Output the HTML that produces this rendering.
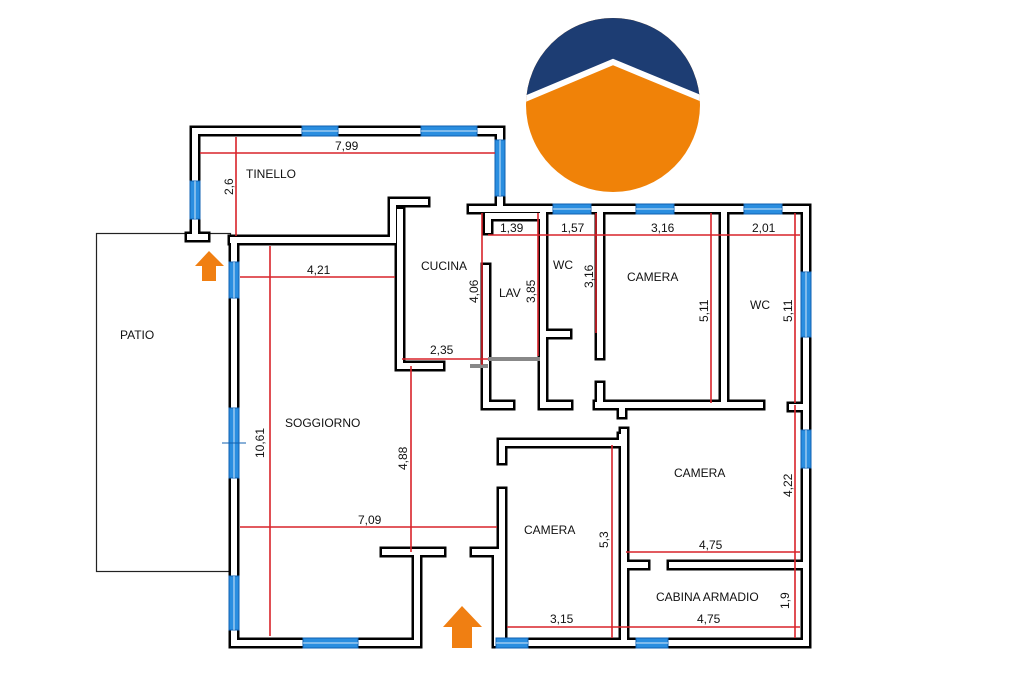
<!DOCTYPE html>
<html><head><meta charset="utf-8"><style>
html,body{margin:0;padding:0;background:#fff}
svg{display:block}
text{font-family:"Liberation Sans",sans-serif;font-size:12px;fill:#111}
</style></head><body>
<svg width="1024" height="682" viewBox="0 0 1024 682" xmlns="http://www.w3.org/2000/svg">
<defs><clipPath id="c"><circle cx="613" cy="105" r="87"/></clipPath></defs>
<g clip-path="url(#c)">
<rect x="520" y="10" width="190" height="190" fill="#f08208"/>
<polygon points="520,10 710,10 710,100 613,60 520,100" fill="#1d3d73"/>
<polyline points="520,101 613,62 710,102" fill="none" stroke="#fff" stroke-width="6"/>
</g>
<rect x="96.5" y="233.5" width="134" height="338" fill="#fff" stroke="#222" stroke-width="1.2"/>
<text x="120" y="339">PATIO</text>
<g fill="none" stroke="#000" stroke-linecap="square" stroke-linejoin="miter" stroke-width="11">
<path d="M195,234 V131 H500 V205"/>
<path d="M190,237 H205"/>
<path d="M233,240 H393 V202 H425"/>
<path d="M234,240 V643 H417 V552 H441"/>
<path d="M400,212 V366 H440"/>
<path d="M385,552 H417"/>
<path d="M475,552 H497 V643 H806 V209 H472"/>
<path d="M502,443 H622 V437"/>
<path d="M502,443 V460"/>
<path d="M502,492 V640"/>
<path d="M624,432 V640"/>
<path d="M626,565 H645"/>
<path d="M672,565 H804"/>
<path d="M600,212 V355"/>
<path d="M600,386 V405"/>
<path d="M598,405 H760"/>
<path d="M622,405 V414"/>
<path d="M724,212 V405"/>
<path d="M792,407 H804"/>
<path d="M543,212 V405 H568"/>
<path d="M543,334 H567"/>
<path d="M488,216 H540"/>
<path d="M488,218 V230"/>
<path d="M486,268 V405 H510"/>
</g>
<g fill="none" stroke-linecap="square" stroke="#fff" stroke-width="6">
<path d="M195,234 V131 H500 V205"/>
<path d="M190,237 H205"/>
<path d="M233,240 H393 V202 H425"/>
<path d="M234,240 V643 H417 V552 H441"/>
<path d="M400,212 V366 H440"/>
<path d="M385,552 H417"/>
<path d="M475,552 H497 V643 H806 V209 H472"/>
<path d="M502,443 H622 V437"/>
<path d="M502,443 V460"/>
<path d="M502,492 V640"/>
<path d="M624,432 V640"/>
<path d="M626,565 H645"/>
<path d="M672,565 H804"/>
<path d="M600,212 V355"/>
<path d="M600,386 V405"/>
<path d="M598,405 H760"/>
<path d="M622,405 V414"/>
<path d="M724,212 V405"/>
<path d="M792,407 H804"/>
<path d="M543,212 V405 H568"/>
<path d="M543,334 H567"/>
<path d="M488,216 H540"/>
<path d="M488,218 V230"/>
<path d="M486,268 V405 H510"/>
</g>
<path d="M488,359 H540 M470,366 H488" stroke="#888" stroke-width="4" fill="none"/>
<g fill="#2a8ee0" stroke="#1060b0" stroke-width="1">
<rect x="302" y="126" width="36" height="10"/>
<rect x="421" y="126" width="56" height="10"/>
<rect x="495" y="140" width="10" height="56"/>
<rect x="190" y="181" width="10" height="38"/>
<rect x="229" y="262" width="10" height="36"/>
<rect x="229" y="408" width="10" height="70"/>
<rect x="229" y="576" width="10" height="54"/>
<rect x="303" y="638" width="55" height="10"/>
<rect x="553" y="204" width="38" height="10"/>
<rect x="636" y="204" width="38" height="10"/>
<rect x="744" y="204" width="38" height="10"/>
<rect x="801" y="272" width="10" height="65"/>
<rect x="801" y="430" width="10" height="38"/>
<rect x="496" y="638" width="32" height="10"/>
<rect x="636" y="638" width="32" height="10"/>
</g>
<g stroke="#fff" stroke-width="1" opacity="0.8">
<path d="M302,131 H338 M421,131 H477 M500,140 V196 M195,181 V219 M234,262 V298 M234,408 V478 M234,576 V630 M303,643 H358 M553,209 H591 M636,209 H674 M744,209 H782 M806,272 V337 M806,430 V468 M496,643 H528 M636,643 H668"/>
</g>
<path d="M222,443 H246" stroke="#1060b0" stroke-width="1"/>
<g stroke="#d8232a" stroke-width="1.6" fill="none">
<path d="M200,153 H495"/>
<path d="M236,137 V236"/>
<path d="M240,277 H395"/>
<path d="M270,246 V636"/>
<path d="M240,527 H497"/>
<path d="M411,366 V552"/>
<path d="M402,359 H488"/>
<path d="M482,213 V365"/>
<path d="M488,235 H800"/>
<path d="M538,213 V356"/>
<path d="M596,213 V333"/>
<path d="M711,213 V403"/>
<path d="M795,213 V403"/>
<path d="M795,405 V638"/>
<path d="M626,552 H800"/>
<path d="M507,627 H800"/>
<path d="M612,445 V638"/>
</g>
<text x="246" y="178">TINELLO</text>
<text x="335" y="150">7,99</text>
<text transform="translate(233,195) rotate(-90)">2,6</text>
<text x="307" y="274">4,21</text>
<text x="421" y="270">CUCINA</text>
<text transform="translate(478,303) rotate(-90)">4,06</text>
<text x="499" y="297">LAV</text>
<text transform="translate(535,303) rotate(-90)">3,85</text>
<text x="500" y="232">1,39</text>
<text x="561" y="232">1,57</text>
<text x="651" y="232">3,16</text>
<text x="752" y="232">2,01</text>
<text x="553" y="269">WC</text>
<text transform="translate(593,288) rotate(-90)">3,16</text>
<text x="627" y="281">CAMERA</text>
<text transform="translate(708,322) rotate(-90)">5,11</text>
<text x="750" y="309">WC</text>
<text transform="translate(792,322) rotate(-90)">5,11</text>
<text x="430" y="354">2,35</text>
<text x="285" y="427">SOGGIORNO</text>
<text transform="translate(264,458) rotate(-90)">10,61</text>
<text transform="translate(407,470) rotate(-90)">4,88</text>
<text x="358" y="524">7,09</text>
<text x="674" y="477">CAMERA</text>
<text transform="translate(792,497) rotate(-90)">4,22</text>
<text x="524" y="534">CAMERA</text>
<text transform="translate(608,548) rotate(-90)">5,3</text>
<text x="699" y="549">4,75</text>
<text x="656" y="601">CABINA ARMADIO</text>
<text transform="translate(789,609) rotate(-90)">1,9</text>
<text x="550" y="623">3,15</text>
<text x="697" y="623">4,75</text>
<polygon points="195,266 209,251 224,266 216,266 216,281 202,281 202,266" fill="#f07f12"/>
<polygon points="443,627 462,606 482,627 472,627 472,648 452,648 452,627" fill="#f07f12"/>
</svg>
</body></html>
